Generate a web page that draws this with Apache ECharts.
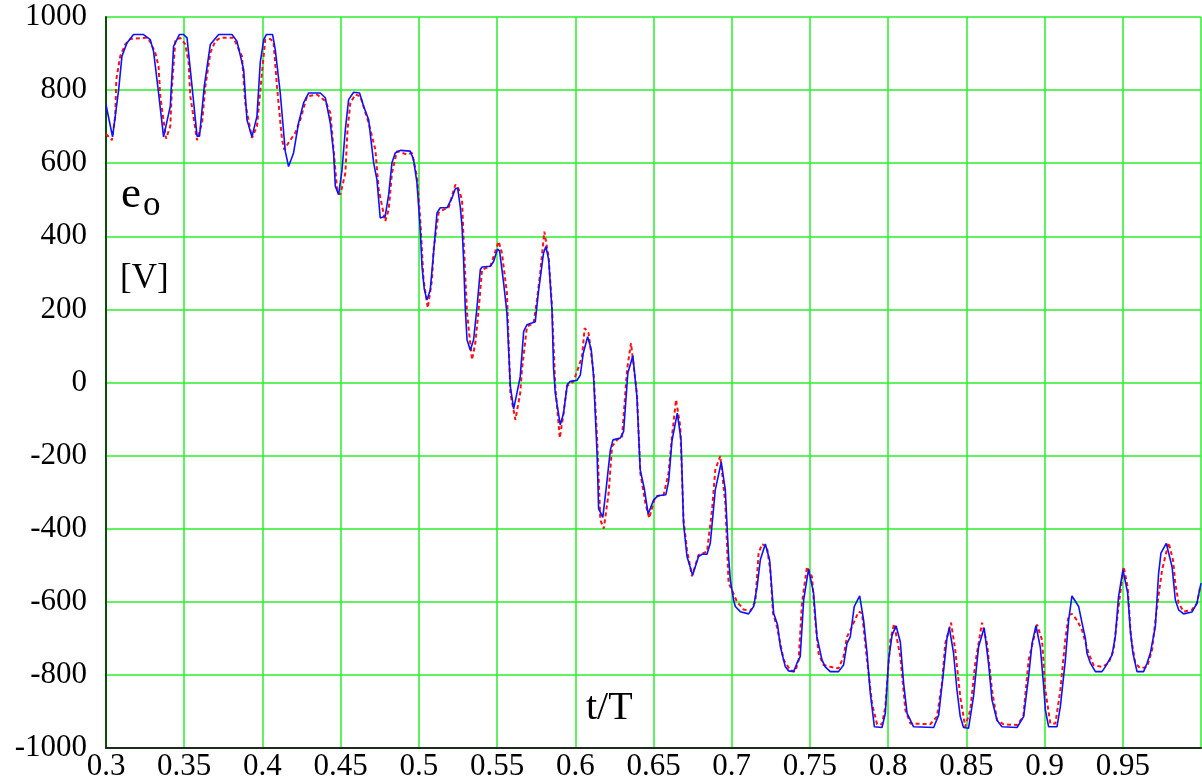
<!DOCTYPE html>
<html><head><meta charset="utf-8">
<script src="https://cdn.jsdelivr.net/npm/echarts@6/dist/echarts.min.js"></script>
<style>html,body{margin:0;padding:0;background:#fff}#c{width:1202px;height:783px}</style>
</head><body><div id="c"></div>
<script>
// ---- data ----
const xTicks = [0.3,0.35,0.4,0.45,0.5,0.55,0.6,0.65,0.7,0.75,0.8,0.85,0.9,0.95];
const yTicks = [-1000,-800,-600,-400,-200,0,200,400,600,800,1000];

const blueT = [0.3000,0.3042,0.3081,0.3102,0.3134,0.3176,0.3240,0.3283,0.3304,0.3336,0.3368,0.3411,0.3432,0.3469,0.3496,0.3518,0.3550,0.3582,0.3598,0.3628,0.3667,0.3720,0.3805,0.3837,0.3880,0.3901,0.3933,0.3965,0.3986,0.4008,0.4025,0.4065,0.4082,0.4114,0.4146,0.4167,0.4199,0.4231,0.4263,0.4295,0.4370,0.4402,0.4434,0.4455,0.4466,0.4487,0.4509,0.4530,0.4551,0.4583,0.4621,0.4647,0.4679,0.4711,0.4732,0.4753,0.4785,0.4807,0.4828,0.4849,0.4881,0.4945,0.4966,0.4988,0.5009,0.5020,0.5035,0.5052,0.5073,0.5094,0.5116,0.5137,0.5180,0.5212,0.5233,0.5248,0.5265,0.5276,0.5286,0.5297,0.5308,0.5329,0.5350,0.5372,0.5393,0.5404,0.5457,0.5478,0.5503,0.5516,0.5542,0.5563,0.5585,0.5606,0.5627,0.5648,0.5670,0.5691,0.5744,0.5765,0.5797,0.5812,0.5830,0.5851,0.5861,0.5872,0.5904,0.5925,0.5949,0.5968,0.6011,0.6032,0.6051,0.6079,0.6102,0.6117,0.6139,0.6149,0.6176,0.6200,0.6224,0.6241,0.6288,0.6309,0.6336,0.6368,0.6394,0.6415,0.6441,0.6466,0.6501,0.6528,0.6579,0.6597,0.6618,0.6652,0.6676,0.6692,0.6714,0.6750,0.6788,0.6810,0.6842,0.6863,0.6895,0.6933,0.6959,0.6980,0.6991,0.7012,0.7023,0.7055,0.7108,0.7140,0.7162,0.7183,0.7215,0.7242,0.7268,0.7293,0.7311,0.7343,0.7364,0.7396,0.7417,0.7438,0.7460,0.7491,0.7523,0.7545,0.7577,0.7598,0.7630,0.7683,0.7715,0.7737,0.7758,0.7783,0.7818,0.7843,0.7865,0.7886,0.7912,0.7961,0.7982,0.8003,0.8025,0.8051,0.8078,0.8099,0.8121,0.8163,0.8291,0.8323,0.8355,0.8376,0.8391,0.8418,0.8440,0.8461,0.8482,0.8514,0.8546,0.8578,0.8614,0.8642,0.8664,0.8696,0.8728,0.8824,0.8866,0.8898,0.8920,0.8945,0.8973,0.8994,0.9005,0.9026,0.9079,0.9101,0.9133,0.9154,0.9175,0.9218,0.9240,0.9261,0.9271,0.9293,0.9325,0.9367,0.9388,0.9431,0.9452,0.9473,0.9501,0.9531,0.9548,0.9565,0.9591,0.9633,0.9655,0.9676,0.9708,0.9729,0.9744,0.9778,0.9815,0.9836,0.9857,0.9889,0.9942,0.9974,1.0000];
const blueV = [760,672,801,893,929,952,952,938,906,792,672,756,920,952,952,943,810,674,674,810,925,952,952,934,856,719,672,728,875,938,952,952,911,792,633,591,628,710,765,792,792,779,710,628,537,514,582,692,774,794,792,756,719,601,555,450,455,514,601,628,635,633,610,546,418,318,254,226,254,354,464,478,478,505,530,532,480,427,336,200,117,88,117,208,309,316,318,331,365,360,272,190,-11,-72,-29,16,140,158,166,250,354,372,336,199,40,-29,-116,-84,-5,3,6,20,80,125,90,16,-193,-345,-369,-280,-185,-157,-152,-134,26,73,-38,-239,-290,-360,-321,-310,-307,-270,-160,-84,-157,-385,-476,-527,-476,-470,-470,-440,-294,-218,-294,-476,-540,-595,-613,-627,-633,-613,-560,-485,-442,-485,-631,-663,-723,-778,-789,-791,-768,-750,-595,-511,-575,-696,-759,-778,-791,-791,-773,-714,-696,-613,-584,-650,-740,-850,-942,-944,-905,-759,-691,-666,-710,-823,-905,-942,-944,-910,-787,-700,-671,-740,-842,-914,-944,-946,-858,-723,-671,-770,-869,-924,-942,-944,-914,-805,-714,-665,-725,-830,-896,-942,-942,-887,-759,-650,-584,-613,-659,-700,-741,-768,-791,-791,-778,-746,-696,-586,-513,-575,-677,-741,-791,-791,-768,-741,-668,-522,-467,-440,-504,-595,-622,-633,-628,-604,-549];

const redT = [0.3000,0.3038,0.3059,0.3066,0.3091,0.3123,0.3155,0.3262,0.3283,0.3315,0.3336,0.3347,0.3384,0.3411,0.3422,0.3443,0.3475,0.3507,0.3528,0.3539,0.3582,0.3614,0.3635,0.3667,0.3699,0.3731,0.3814,0.3827,0.3869,0.3890,0.3933,0.3965,0.3997,0.4018,0.4050,0.4071,0.4093,0.4125,0.4140,0.4167,0.4210,0.4242,0.4285,0.4349,0.4402,0.4434,0.4455,0.4477,0.4498,0.4530,0.4544,0.4562,0.4594,0.4626,0.4679,0.4722,0.4743,0.4785,0.4807,0.4828,0.4860,0.4924,0.4956,0.4988,0.5009,0.5030,0.5057,0.5084,0.5094,0.5126,0.5158,0.5190,0.5233,0.5248,0.5276,0.5286,0.5308,0.5340,0.5361,0.5382,0.5404,0.5457,0.5510,0.5531,0.5563,0.5585,0.5617,0.5648,0.5659,0.5691,0.5734,0.5755,0.5776,0.5802,0.5829,0.5851,0.5872,0.5901,0.5925,0.5947,0.5989,0.6043,0.6060,0.6085,0.6117,0.6139,0.6160,0.6182,0.6213,0.6235,0.6267,0.6299,0.6331,0.6356,0.6394,0.6416,0.6448,0.6473,0.6511,0.6565,0.6596,0.6618,0.6644,0.6671,0.6692,0.6714,0.6746,0.6788,0.6842,0.6874,0.6895,0.6927,0.6959,0.6980,0.7002,0.7034,0.7076,0.7119,0.7151,0.7172,0.7194,0.7225,0.7247,0.7264,0.7289,0.7332,0.7374,0.7406,0.7428,0.7449,0.7481,0.7513,0.7534,0.7555,0.7587,0.7630,0.7683,0.7715,0.7737,0.7769,0.7811,0.7833,0.7865,0.7897,0.7929,0.7961,0.7982,0.8014,0.8038,0.8078,0.8110,0.8142,0.8269,0.8312,0.8344,0.8365,0.8402,0.8429,0.8461,0.8493,0.8525,0.8557,0.8600,0.8632,0.8664,0.8696,0.8738,0.8824,0.8864,0.8898,0.8952,0.8984,0.9005,0.9037,0.9069,0.9101,0.9132,0.9154,0.9175,0.9207,0.9239,0.9281,0.9313,0.9367,0.9409,0.9441,0.9473,0.9505,0.9531,0.9552,0.9580,0.9612,0.9655,0.9687,0.9719,0.9751,0.9793,0.9821,0.9836,0.9857,0.9889,0.9942,0.9974,0.9995];
const redV = [680,663,728,829,893,925,940,943,932,902,865,783,667,701,810,934,943,925,875,783,663,710,810,902,934,943,943,932,893,765,669,701,847,938,940,932,810,665,637,656,683,719,783,788,770,738,637,528,514,573,692,765,788,783,710,637,528,441,473,573,633,624,628,564,446,281,204,281,363,464,473,478,541,537,500,390,190,62,108,199,309,318,386,354,245,-29,-102,-29,35,153,163,226,300,413,345,210,-10,-152,-84,-10,3,70,149,135,26,-148,-376,-400,-303,-175,-157,-148,35,108,-30,-248,-330,-371,-312,-307,-248,-148,-47,-120,-376,-458,-530,-472,-463,-350,-239,-201,-330,-549,-568,-600,-621,-625,-600,-467,-442,-450,-515,-631,-668,-759,-787,-791,-759,-604,-504,-531,-650,-741,-773,-778,-782,-750,-696,-668,-627,-631,-759,-878,-935,-935,-887,-705,-660,-750,-896,-933,-935,-914,-823,-714,-657,-732,-860,-942,-896,-768,-657,-714,-842,-924,-935,-937,-914,-759,-662,-705,-842,-933,-933,-842,-705,-636,-633,-650,-677,-741,-773,-778,-768,-732,-613,-504,-559,-696,-768,-782,-778,-732,-613,-513,-438,-486,-550,-604,-627,-622,-604,-559];

const pairs = (t, v) => t.map((x, i) => [x, v[i]]);

const chart = echarts.init(document.getElementById('c'), null, {renderer: 'canvas'});
const FONT = "'Liberation Serif', 'DejaVu Serif', serif";
chart.setOption({
  animation: false,
  backgroundColor: '#ffffff',
  grid: {left: 106, right: 1, top: 17, bottom: 35, containLabel: false},
  xAxis: {
    type: 'value', min: 0.3, max: 1.0, interval: 0.05,
    axisLine: {show: true, onZero: false, lineStyle: {color: '#1e2a1e', width: 2}},
    axisTick: {show: false},
    splitLine: {show: true, lineStyle: {color: '#2af02a', width: 1.5}},
    axisLabel: {
      show: true, showMaxLabel: false, margin: 3,
      color: '#000', fontFamily: FONT, fontSize: 31,
      formatter: v => {
        const r = Math.round(v * 100) / 100;
        return xTicks.indexOf(r) >= 0 ? String(r) : '';
      }
    }
  },
  yAxis: {
    type: 'value', min: -1000, max: 1000, interval: 200,
    axisLine: {show: true, onZero: false, lineStyle: {color: '#0b4d0b', width: 2}},
    axisTick: {show: false},
    splitLine: {show: true, lineStyle: {color: '#2af02a', width: 1.5}},
    axisLabel: {
      show: true, margin: 19,
      color: '#000', fontFamily: FONT, fontSize: 31,
      formatter: v => {
        const r = Math.round(v);
        if (yTicks.indexOf(r) < 0) return '';
        return r < 0 ? '-' + Math.abs(r) : String(r);
      }
    }
  },
  series: [
    {
      name: 'red', type: 'line', data: pairs(redT, redV),
      showSymbol: false, symbol: 'none', smooth: false, z: 3,
      lineStyle: {color: '#ff1010', width: 2, type: [4, 3]}
    },
    {
      name: 'blue', type: 'line', data: pairs(blueT, blueV),
      showSymbol: false, symbol: 'none', smooth: false, z: 4,
      lineStyle: {color: '#1010ff', width: 1.6}
    }
  ],
  graphic: [
    {type: 'text', left: 121, top: 173, z: 10, style: {text: 'e', font: "45px 'Liberation Serif'", fill: '#000'}},
    {type: 'text', left: 143, top: 188, z: 10, style: {text: 'o', font: "35px 'Liberation Serif'", fill: '#000'}},
    {type: 'text', left: 120, top: 261, z: 10, style: {text: '[V]', font: "35px 'Liberation Serif'", fill: '#000'}},
    {type: 'text', left: 586, top: 688, z: 10, style: {text: 't/T', font: "40px 'Liberation Serif'", fill: '#000'}}
  ]
});
</script></body></html>
